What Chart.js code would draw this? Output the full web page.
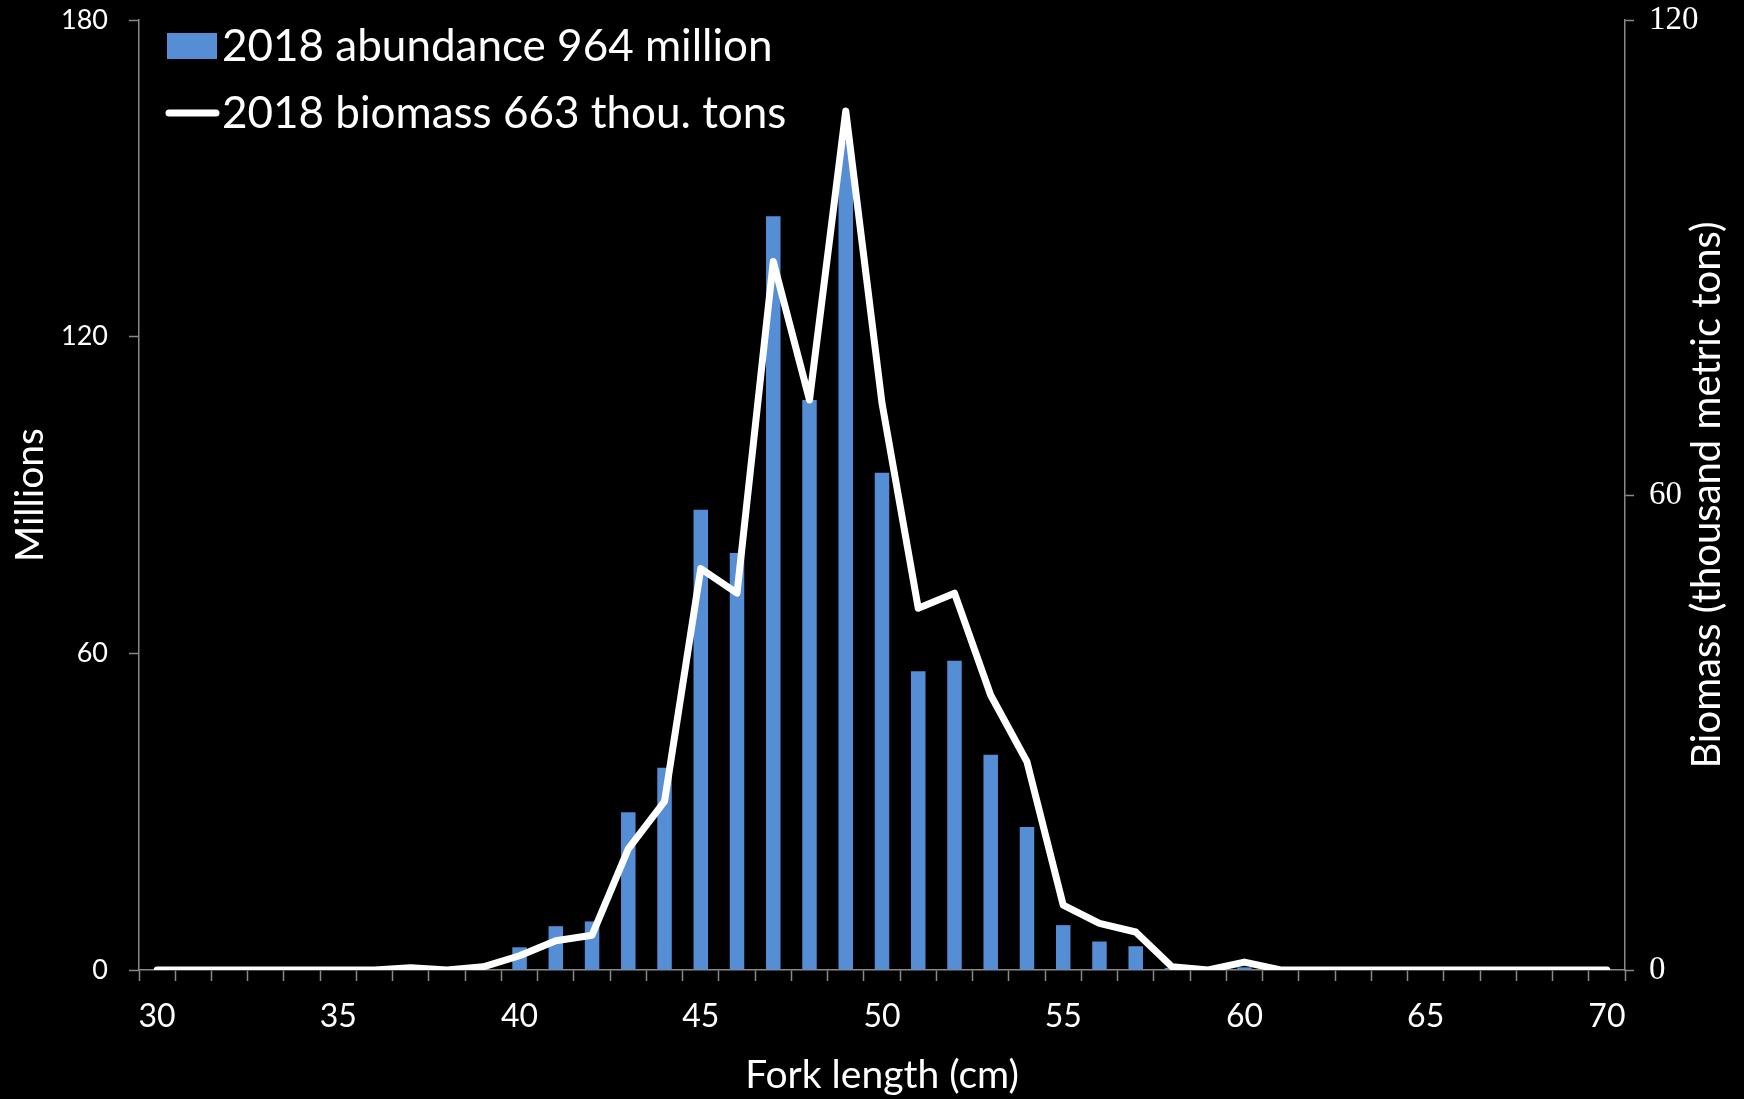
<!DOCTYPE html>
<html>
<head>
<meta charset="utf-8">
<script src="https://cdn.jsdelivr.net/npm/chart.js@4.4.1/dist/chart.umd.min.js"></script>
<style>
  html, body { margin: 0; padding: 0; background: #000; }
  #wrap { width: 1744px; height: 1099px; position: relative; background: #000; }
  canvas { display: block; }
</style>
</head>
<body>
<div id="wrap"><canvas id="c" width="1744" height="1099"></canvas></div>
<script>
// ---------- data ----------
const forkLength = [30,31,32,33,34,35,36,37,38,39,40,41,42,43,44,45,46,47,48,49,50,51,52,53,54,55,56,57,58,59,60,61,62,63,64,65,66,67,68,69,70];
const abundance  = [0,0,0,0,0,0,0,0,0,0,4.3,8.3,9.2,29.9,38.3,87.2,79,142.8,108,157,94.2,56.6,58.6,40.8,27.1,8.5,5.4,4.5,0.4,0,0.5,0,0,0,0,0,0,0,0,0,0];
const biomass    = [0,0,0,0,0,0,0,0.3,0,0.4,1.8,3.7,4.4,15.3,21.3,50.7,47.6,89.5,72,108.5,71.6,45.7,47.6,34.7,26.3,8.2,5.9,4.8,0.4,0,1.0,0,0,0,0,0,0,0,0,0,0];
const xTickLabels = ['30','35','40','45','50','55','60','65','70'];
const leftTicks = [0,60,120,180];
const rightTicks = [0,60,120];
const abundanceLabel = '2018 abundance 964 million';
const biomassLabel = '2018 biomass 663 thou. tons';
const xTitle = 'Fork length (cm)';
const leftTitle = 'Millions';
const rightTitle = 'Biomass (thousand metric tons)';

const SANS = 'Lato, "Open Sans", sans-serif';
const SERIF = '"Liberation Serif", "DejaVu Serif", serif';
const AXIS = '#888888';

// custom legend + right title (reads bottom-to-top)
const overlay = {
  id: 'overlay',
  afterDraw(chart) {
    const ctx = chart.ctx;
    const ds = chart.data.datasets;
    ctx.save();
    // legend
    ctx.font = '44px ' + SANS;
    ctx.textBaseline = 'middle';
    ctx.textAlign = 'left';
    ctx.fillStyle = ds[0].backgroundColor;
    ctx.fillRect(167, 33, 50, 26);
    ctx.fillStyle = '#ffffff';
    ctx.fillText(ds[0].label, 222, 47);
    ctx.strokeStyle = ds[1].borderColor;
    ctx.lineWidth = 7;
    ctx.lineCap = 'round';
    ctx.beginPath();
    ctx.moveTo(169, 113);
    ctx.lineTo(216, 113);
    ctx.stroke();
    ctx.fillText(ds[1].label, 222, 114);
    // right axis title
    const y2 = chart.scales.y2;
    ctx.translate(1707, (y2.top + y2.bottom) / 2);
    ctx.rotate(-Math.PI / 2);
    ctx.textAlign = 'center';
    ctx.font = '40px ' + SANS;
    ctx.fillText(rightTitle, 0, 0);
    ctx.restore();
  }
};

const chart = new Chart(document.getElementById('c'), {
  type: 'bar',
  data: {
    labels: forkLength,
    datasets: [
      {
        type: 'bar',
        label: abundanceLabel,
        data: abundance,
        backgroundColor: '#558ED5',
        borderWidth: 0,
        barPercentage: 0.4,
        categoryPercentage: 1.0,
        yAxisID: 'y',
        order: 2
      },
      {
        type: 'line',
        label: biomassLabel,
        data: biomass,
        borderColor: '#ffffff',
        backgroundColor: '#ffffff',
        borderWidth: 7,
        pointRadius: 0,
        tension: 0,
        borderCapStyle: 'round',
        borderJoinStyle: 'round',
        yAxisID: 'y2',
        order: 1
      }
    ]
  },
  options: {
    responsive: false,
    devicePixelRatio: 1,
    animation: false,
    layout: { padding: { top: 20, left: 0, right: 0, bottom: 0 } },
    plugins: {
      legend: { display: false },
      tooltip: { enabled: false },
      title: { display: false }
    },
    scales: {
      x: {
        type: 'category',
        offset: true,
        grid: {
          offset: true,
          display: true,
          drawOnChartArea: false,
          drawTicks: true,
          tickLength: 11,
          tickColor: AXIS,
          tickWidth: 1.5,
          color: AXIS
        },
        border: { display: true, color: AXIS, width: 1.5 },
        ticks: {
          autoSkip: false,
          maxRotation: 0,
          color: '#ffffff',
          font: { family: SANS, size: 32 },
          padding: 16,
          callback: function (v) {
            const lab = String(this.getLabelForValue(v));
            return xTickLabels.includes(lab) ? lab : '';
          }
        },
        title: {
          display: true,
          text: xTitle,
          color: '#ffffff',
          font: { family: SANS, size: 39, lineHeight: 1.2 },
          padding: { top: 0, bottom: 0 }
        },
        afterFit: (s) => { s.height = 129; s.paddingLeft = 0; s.paddingRight = 0; }
      },
      y: {
        position: 'left',
        min: 0,
        max: 180,
        afterBuildTicks: (s) => { s.ticks = leftTicks.map(v => ({ value: v })); },
        grid: {
          display: true,
          drawOnChartArea: false,
          drawTicks: true,
          tickLength: 10,
          tickColor: AXIS,
          tickWidth: 1.5
        },
        border: { display: true, color: AXIS, width: 1.5 },
        ticks: {
          color: '#ffffff',
          font: { family: SANS, size: 27 },
          padding: 21
        },
        title: {
          display: true,
          text: leftTitle,
          color: '#ffffff',
          font: { family: SANS, size: 39, lineHeight: 1.2 },
          padding: { top: 7, bottom: 0 }
        },
        afterFit: (s) => { s.width = 139; s.paddingTop = 0; s.paddingBottom = 0; }
      },
      y2: {
        position: 'right',
        min: 0,
        max: 120,
        afterBuildTicks: (s) => { s.ticks = rightTicks.map(v => ({ value: v })); },
        grid: {
          display: true,
          drawOnChartArea: false,
          drawTicks: true,
          tickLength: 9,
          tickColor: AXIS,
          tickWidth: 1.5
        },
        border: { display: true, color: AXIS, width: 1.5 },
        ticks: {
          color: '#ffffff',
          font: { family: SERIF, size: 33 },
          padding: 15
        },
        title: { display: false },
        afterFit: (s) => { s.width = 119; s.paddingTop = 0; s.paddingBottom = 0; }
      }
    }
  },
  plugins: [overlay]
});
</script>
</body>
</html>
